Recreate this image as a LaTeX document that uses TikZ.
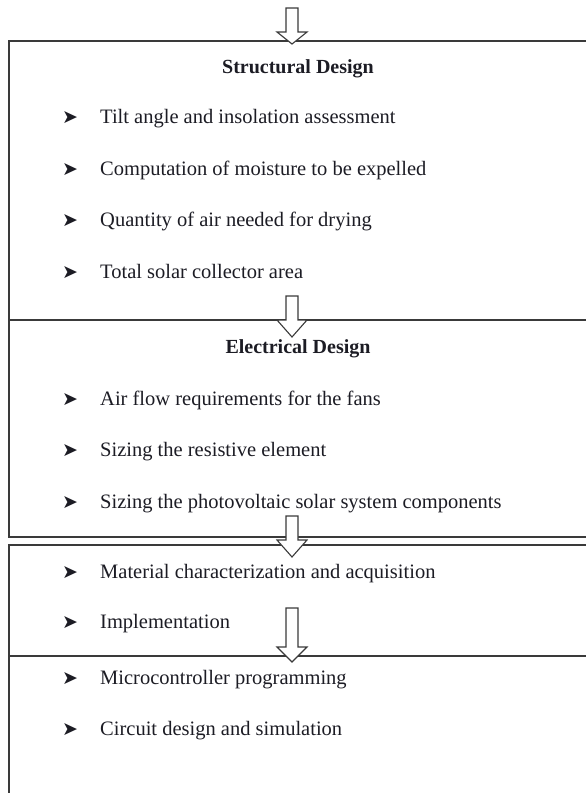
\documentclass[tikz,border=0pt]{standalone}
\usepackage{fontspec}
\setmainfont{Liberation Serif}
\newfontfamily\symfont{DejaVu Sans}
\definecolor{linegray}{HTML}{3A3A3A}
\definecolor{textgray}{HTML}{1C1C24}
\tikzset{
  frame/.style={draw=linegray,line width=1.4pt},
  hollow/.style={draw=linegray,line width=1.1pt,fill=white},
  item/.style={anchor=base west,inner sep=0pt,text=textgray,font=\fontsize{20.5}{24}\selectfont},
  heading/.style={anchor=base,inner sep=0pt,text=textgray,font=\fontsize{20}{24}\selectfont\bfseries},
  bulletmark/.style={anchor=base west,inner sep=0pt,text=textgray,font=\symfont\fontsize{19}{19}\selectfont},
}
% hollow block arrow: x, top of shaft, base of head, tip
\def\hollowdown#1#2#3#4{\draw[hollow] (#1-6,#2) -- (#1+6,#2) -- (#1+6,#3) -- (#1+15,#3) -- (#1,#4) -- (#1-15,#3) -- (#1-6,#3) -- cycle;}
\begin{document}
\begin{tikzpicture}[x=1pt,y=-1pt]
  \useasboundingbox (0,0) rectangle (586,793);
  % boxes
  \draw[frame] (600,41) -- (9,41) -- (9,537) -- (600,537);
  \draw[frame] (9,320) -- (600,320);
  \draw[frame] (600,545) -- (9,545) -- (9,800);
  \draw[frame] (9,656) -- (600,656);
  % arrows
  \hollowdown{292}{8}{32}{44}
  \hollowdown{292}{296}{320}{337}
  \hollowdown{292}{516}{540}{557}
  \hollowdown{292}{608}{647}{662}
  % headings
  \node[heading] (structural) at (298,73) {Structural Design};
  \node[heading] (electrical) at (298,353) {Electrical Design};
  % items
  \node[item] (tilt) at (100,123) {Tilt angle and insolation assessment};
  \node[item] (moisture) at (100,175) {Computation of moisture to be expelled};
  \node[item] (airqty) at (100,226) {Quantity of air needed for drying};
  \node[item] (area) at (100,278) {Total solar collector area};
  \node[item] (airflow) at (100,405) {Air flow requirements for the fans};
  \node[item] (resistive) at (100,456) {Sizing the resistive element};
  \node[item] (pv) at (100,508) {Sizing the photovoltaic solar system components};
  \node[item] (material) at (100,578) {Material characterization and acquisition};
  \node[item] (implement) at (100,628) {Implementation};
  \node[item] (micro) at (100,684) {Microcontroller programming};
  \node[item] (circuit) at (100,735) {Circuit design and simulation};
  % bullets
  \foreach \y in {123,175,226,278,405,456,508,578,628,684,735}
    \node[bulletmark] (b\y) at (62,\y) {➤};
\end{tikzpicture}
\end{document}
